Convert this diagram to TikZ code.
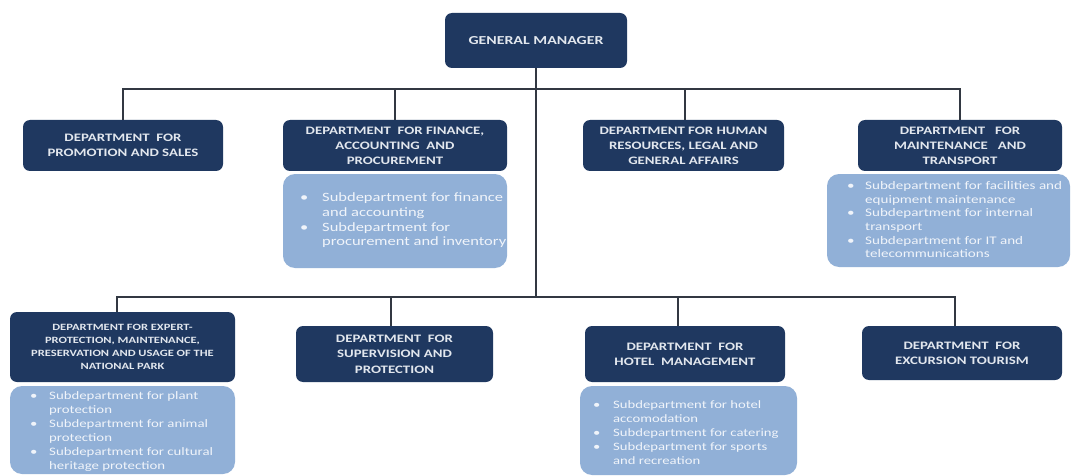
\documentclass[tikz,border=0pt]{standalone}
\usepackage{fontspec}
\setmainfont{Carlito}[FakeStretch=1.3]
\definecolor{navy}{RGB}{31,56,96}
\definecolor{hdrtext}{RGB}{226,231,238}
\definecolor{subfill}{RGB}{145,176,215}
\definecolor{subtext}{RGB}{240,244,250}
\definecolor{linecol}{RGB}{50,56,66}
\newcommand{\bul}[1]{\makebox[#1][l]{•}}
\tikzset{
  hdr/.style={rounded corners=7pt, fill=navy, text=hdrtext, inner sep=0pt, align=center,
    font=\bfseries\fontsize{11.4}{15}\selectfont},
  subbox/.style={rounded corners=12pt, fill=subfill, inner sep=0pt},
  subtxt/.style={text=subtext, inner sep=0pt, anchor=west},
  conn/.style={draw=linecol, line width=1.5pt}
}
\begin{document}
\begin{tikzpicture}[x=1pt,y=-1pt]
\useasboundingbox[fill=white] (0,0) rectangle (1071,476);

% General manager
\node[hdr, minimum width=182pt, minimum height=55pt, font=\bfseries\fontsize{12.2}{15}\selectfont] (gm) at (536,40.5) {GENERAL MANAGER};

% Row 1
\node[hdr, minimum width=200pt, minimum height=51pt] (promo) at (123,145.5) {DEPARTMENT\ \ FOR\\PROMOTION AND SALES};
\node[hdr, minimum width=224pt, minimum height=51pt] (fin) at (395,145.5) {DEPARTMENT\ \ FOR FINANCE,\\ACCOUNTING\ \ AND\\PROCUREMENT};
\node[subbox, minimum width=224pt, minimum height=94pt] (finsub) at (395,221) {};
\node[hdr, minimum width=201pt, minimum height=51pt] (hr) at (683.5,145.5) {DEPARTMENT FOR HUMAN\\RESOURCES, LEGAL AND\\GENERAL AFFAIRS};
\node[hdr, minimum width=204pt, minimum height=51pt] (mt) at (960,145.5) {DEPARTMENT\ \ \ FOR\\MAINTENANCE\ \ \ AND\\TRANSPORT};
\node[subbox, minimum width=243pt, minimum height=93pt] (mtsub) at (948.5,220.5) {};

% Row 2
\node[hdr, minimum width=225pt, minimum height=70pt, font=\bfseries\fontsize{9.6}{13.2}\selectfont] (exp) at (122.5,347) {DEPARTMENT FOR EXPERT-\\PROTECTION, MAINTENANCE,\\PRESERVATION AND USAGE OF THE\\NATIONAL PARK};
\node[subbox, minimum width=225pt, minimum height=88pt] (expsub) at (122.5,430) {};
\node[hdr, minimum width=197pt, minimum height=56pt, font=\bfseries\fontsize{11.4}{15.5}\selectfont] (sup) at (394.5,354) {DEPARTMENT\ \ FOR\\SUPERVISION AND\\PROTECTION};
\node[hdr, minimum width=200pt, minimum height=56pt] (hot) at (685,354) {DEPARTMENT\ \ FOR\\HOTEL\ \ MANAGEMENT};
\node[subbox, minimum width=217pt, minimum height=89pt] (hotsub) at (688.5,430.5) {};
\node[hdr, minimum width=200pt, minimum height=54pt] (exc) at (962,353) {DEPARTMENT\ \ FOR\\EXCURSION TOURISM};

% Sub-department texts
\node[subtxt, font=\fontsize{12.7}{14.7}\selectfont] (fint) at (300,221) {%
\begin{tabular}{@{}l@{}l@{}}
\bul{22pt} & Subdepartment for finance\\
 & and accounting\\
\bul{22pt} & Subdepartment for\\
 & procurement and inventory
\end{tabular}};
\node[subtxt, font=\fontsize{11.6}{13.7}\selectfont] (mtt) at (847,221) {%
\begin{tabular}{@{}l@{}l@{}}
\bul{18pt} & Subdepartment for facilities and\\
 & equipment maintenance\\
\bul{18pt} & Subdepartment for internal\\
 & transport\\
\bul{18pt} & Subdepartment for IT and\\
 & telecommunications
\end{tabular}};
\node[subtxt, font=\fontsize{11.4}{14}\selectfont] (expt) at (30,432) {%
\begin{tabular}{@{}l@{}l@{}}
\bul{19pt} & Subdepartment for plant\\
 & protection\\
\bul{19pt} & Subdepartment for animal\\
 & protection\\
\bul{19pt} & Subdepartment for cultural\\
 & heritage protection
\end{tabular}};
\node[subtxt, font=\fontsize{11.3}{14}\selectfont] (hott) at (593,434) {%
\begin{tabular}{@{}l@{}l@{}}
\bul{20pt} & Subdepartment for hotel\\
 & accomodation\\
\bul{20pt} & Subdepartment for catering\\
\bul{20pt} & Subdepartment for sports\\
 & and recreation
\end{tabular}};

% Connectors
\coordinate (busA) at (536,89);
\coordinate (busB) at (536,297);
\draw[conn] (gm.south) -- (gm.south |- busB);
\draw[conn] (promo.north) |- (busA) -| (mt.north);
\draw[conn] (fin.north) -- (fin.north |- busA);
\draw[conn] ([xshift=1.5pt]hr.north) -- ([xshift=1.5pt]hr.north |- busA);
\draw[conn] ([xshift=-5.5pt]exp.north) |- (busB) -| ([xshift=-7pt]exc.north);
\draw[conn] ([xshift=-3.5pt]sup.north) -- ([xshift=-3.5pt]sup.north |- busB);
\draw[conn] ([xshift=-7pt]hot.north) -- ([xshift=-7pt]hot.north |- busB);
\end{tikzpicture}
\end{document}
